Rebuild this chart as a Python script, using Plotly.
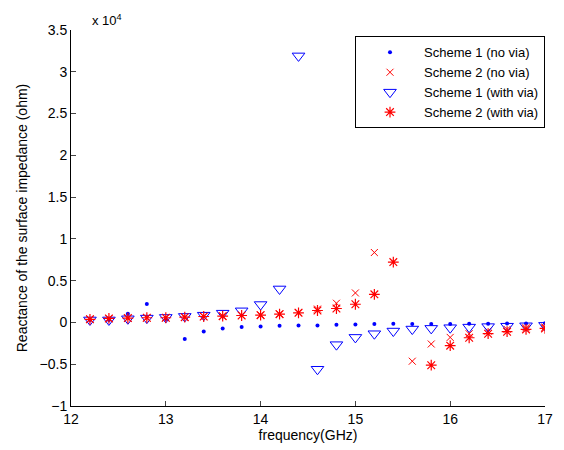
import plotly.graph_objects as go

freq = [12.2, 12.4, 12.6, 12.8, 13.0, 13.2, 13.4, 13.6, 13.8, 14.0, 14.2, 14.4,
        14.6, 14.8, 15.0, 15.2, 15.4, 15.6, 15.8, 16.0, 16.2, 16.4, 16.6, 16.8, 17.0]

s1_novia = [300, 300, 1040, 2200, 400, -1980, -1070, -714, -555, -476, -397, -357,
            -357, -278, -238, -200, -160, -200, -200, -180, -160, -160, -140, -140, -100]
s2_novia = [420, 460, 500, 540, 560, 620, 700, 760, 850, 900, 1020, 1200,
            1600, 2300, 3530, 8370, None, -4640, -2580, -1790, -1350, -1030, -830, -630, -560]
s1_via = [300, 300, 440, 520, 600, 720, 870, 1110, 1390, 2140, 4010, 31900,
          -5600, -2660, -1790, -1350, -1030, -790, -710, -630, -560, -500, -450, -400, -350]
s2_via = [370, 480, 520, 560, 560, 630, 710, 750, 830, 870, 990, 1150,
          1430, 1670, 2180, 3370, 7220, None, -5120, -2780, -1830, -1350, -1110, -830, -710]

ytick_vals = [-10000, -5000, 0, 5000, 10000, 15000, 20000, 25000, 30000, 35000]
ytick_text = ["\u22121", "\u22120.5", "0", "0.5", "1", "1.5", "2", "2.5", "3", "3.5"]
xtick_vals = [12, 13, 14, 15, 16, 17]

FONT = "Liberation Sans, Arial, sans-serif"

fig = go.Figure()
fig.add_trace(go.Scatter(x=freq, y=s1_novia, mode="markers", name="Scheme 1 (no via)",
                         marker=dict(symbol="circle", size=4, color="#0000ff")))
fig.add_trace(go.Scatter(x=freq, y=s2_novia, mode="markers", name="Scheme 2 (no via)",
                         marker=dict(symbol="x-thin-open", size=7, color="#ff0000",
                                     line=dict(width=1, color="#ff0000"))))
fig.add_trace(go.Scatter(x=freq, y=s1_via, mode="markers", name="Scheme 1 (with via)",
                         marker=dict(symbol="triangle-down-open", size=11, color="#0000ff",
                                     line=dict(width=1, color="#0000ff"))))
fig.add_trace(go.Scatter(x=freq, y=s2_via, mode="markers", name="Scheme 2 (with via)",
                         marker=dict(symbol="asterisk-open", size=9, color="#ff0000",
                                     line=dict(width=1.2, color="#ff0000"))))

axis_font = dict(family=FONT, size=14, color="black")
fig.update_layout(
    width=564, height=450,
    margin=dict(l=71, r=11, t=30, b=41),
    paper_bgcolor="white", plot_bgcolor="white",
    font=axis_font,
    showlegend=True,
    legend=dict(x=1.0, y=0.983, xanchor="right", yanchor="top",
                bordercolor="black", borderwidth=1, bgcolor="white",
                font=dict(family=FONT, size=13, color="black"),
                tracegroupgap=0, itemwidth=58),
    xaxis=dict(range=[12, 17], tickvals=xtick_vals, ticks="inside", ticklen=5,
               showline=True, linecolor="black", linewidth=1, showgrid=False,
               zeroline=False, mirror=False, tickfont=axis_font,
               title=dict(text="frequency(GHz)", font=dict(family=FONT, size=14), standoff=2)),
    yaxis=dict(range=[-10000, 35000], tickvals=ytick_vals, ticktext=ytick_text,
               ticks="inside", ticklen=5, showline=True, linecolor="black",
               linewidth=1, showgrid=False, zeroline=False, mirror=False,
               tickfont=axis_font,
               title=dict(text="Reactance of the surface impedance (ohm)",
                          font=dict(family=FONT, size=14), standoff=8)),
    annotations=[dict(text="x 10<sup>4</sup>", xref="paper", yref="paper",
                      x=0.04, y=1.0, xanchor="left", yanchor="bottom",
                      showarrow=False, font=dict(family=FONT, size=13))],
)

fig.write_html("out.html", config={"displayModeBar": False},
               post_script="document.body.style.margin='0';document.body.style.overflow='hidden';")
